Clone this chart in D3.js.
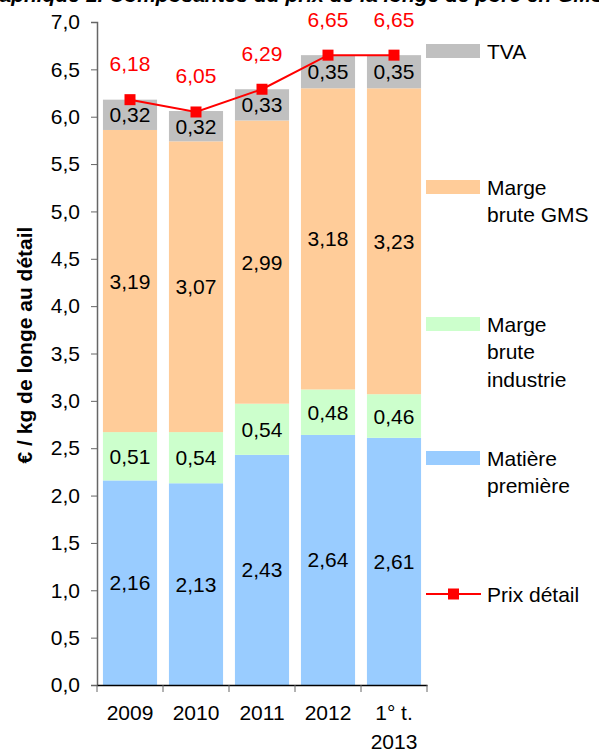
<!DOCTYPE html>
<html>
<head>
<meta charset="utf-8">
<script src="https://cdnjs.cloudflare.com/ajax/libs/d3/7.8.5/d3.min.js"></script>
<style>
  body { margin: 0; background: #fff; }
  svg { font-family: "Liberation Sans", Arial, sans-serif; }
</style>
</head>
<body>
<div id="chart"></div>
<script>
// data
var categories = ["2009", "2010", "2011", "2012", "1° t.\n2013"];
var matiere = [2.16, 2.13, 2.43, 2.64, 2.61];
var industrie = [0.51, 0.54, 0.54, 0.48, 0.46];
var gms = [3.19, 3.07, 2.99, 3.18, 3.23];
var tva = [0.32, 0.32, 0.33, 0.35, 0.35];
var prix = [6.18, 6.05, 6.29, 6.65, 6.65];
var yTicks = [0, 0.5, 1, 1.5, 2, 2.5, 3, 3.5, 4, 4.5, 5, 5.5, 6, 6.5, 7];

var seriesKeys = ["matiere", "industrie", "gms", "tva"];
var colors = {matiere: "#99CCFF", industrie: "#CCFFCC", gms: "#FFCC99", tva: "#C0C0C0"};

var rows = categories.map(function(c, i) {
  return {cat: c, matiere: matiere[i], industrie: industrie[i], gms: gms[i], tva: tva[i], prix: prix[i]};
});

var width = 599, height = 751;
var fs = "21px";
var svg = d3.select("#chart").append("svg")
  .attr("width", width)
  .attr("height", height);

// title, mostly cut off at the top
svg.append("text")
  .attr("x", -25)
  .attr("y", 2)
  .attr("font-size", fs)
  .attr("font-weight", "bold")
  .attr("font-style", "italic")
  .text("Graphique 1. Composantes du prix de la longe de porc en GMS");

var x = d3.scaleBand()
  .domain(categories)
  .range([97, 427])
  .paddingInner(0.18)
  .paddingOuter(0.09);

var y = d3.scaleLinear()
  .domain([0, 7])
  .range([685, 22]);

var stacked = d3.stack().keys(seriesKeys)(rows);

// bars
svg.append("g")
  .selectAll("g")
  .data(stacked)
  .enter()
  .append("g")
  .attr("fill", function(d) { return colors[d.key]; })
  .selectAll("rect")
  .data(function(d) { return d; })
  .enter()
  .append("rect")
  .attr("x", function(d) { return x(d.data.cat); })
  .attr("y", function(d) { return y(d[1]); })
  .attr("width", x.bandwidth())
  .attr("height", function(d) { return y(d[0]) - y(d[1]); });

// value labels inside segments
var fmt = function(v) { return d3.format(".2f")(v).replace(".", ","); };
stacked.forEach(function(s) {
  svg.append("g")
    .selectAll("text")
    .data(s)
    .enter()
    .append("text")
    .attr("x", function(d) { return x(d.data.cat) + x.bandwidth() / 2; })
    .attr("y", function(d) { return (y(d[0]) + y(d[1])) / 2 + 7.5; })
    .attr("text-anchor", "middle")
    .attr("font-size", fs)
    .attr("fill", "#000")
    .text(function(d) { return fmt(d[1] - d[0]); });
});

// y axis
var yAxis = svg.append("g")
  .attr("transform", "translate(97,0)")
  .call(d3.axisLeft(y).tickValues(yTicks).tickSize(6).tickPadding(11)
    .tickFormat(function(d) { return d3.format(".1f")(d).replace(".", ","); }));
yAxis.select(".domain").attr("stroke", "#666").attr("stroke-width", 1.5);
yAxis.selectAll(".tick line").attr("stroke", "#666");
yAxis.selectAll("text").attr("font-size", fs).attr("fill", "#000")
  .attr("font-family", "Liberation Sans, Arial, sans-serif");

// x axis
var xAxis = svg.append("g")
  .attr("transform", "translate(0,685)")
  .call(d3.axisBottom(x).tickSize(0).tickFormat(""));
xAxis.select(".domain").attr("stroke", "#000").attr("stroke-width", 1.5);
var edges = categories.map(function(c) { return x(c) - x.step() * x.paddingInner() / 2; });
edges.push(427);
svg.append("g")
  .selectAll("line")
  .data(edges)
  .enter()
  .append("line")
  .attr("x1", function(d) { return d; })
  .attr("x2", function(d) { return d; })
  .attr("y1", 685)
  .attr("y2", 692)
  .attr("stroke", "#666");

svg.append("g")
  .selectAll("text")
  .data(categories)
  .enter()
  .append("text")
  .attr("x", function(d) { return x(d) + x.bandwidth() / 2; })
  .attr("y", 720)
  .attr("text-anchor", "middle")
  .attr("font-size", fs)
  .each(function(d) {
    var t = d3.select(this);
    d.split("\n").forEach(function(l, i) {
      t.append("tspan")
        .attr("x", x(d) + x.bandwidth() / 2)
        .attr("dy", i === 0 ? 0 : 29)
        .text(l);
    });
  });

// y axis title
svg.append("text")
  .attr("transform", "translate(32,345) rotate(-90)")
  .attr("text-anchor", "middle")
  .attr("font-size", fs)
  .attr("font-weight", "bold")
  .text("€ / kg de longe au détail");

// price line
var line = d3.line()
  .x(function(d) { return x(d.cat) + x.bandwidth() / 2; })
  .y(function(d) { return y(d.prix); });

svg.append("path")
  .datum(rows)
  .attr("d", line)
  .attr("fill", "none")
  .attr("stroke", "#FF0000")
  .attr("stroke-width", 2);

svg.append("g")
  .selectAll("rect")
  .data(rows)
  .enter()
  .append("rect")
  .attr("x", function(d) { return x(d.cat) + x.bandwidth() / 2 - 5.5; })
  .attr("y", function(d) { return y(d.prix) - 5.5; })
  .attr("width", 11)
  .attr("height", 11)
  .attr("fill", "#FF0000");

svg.append("g")
  .selectAll("text")
  .data(rows)
  .enter()
  .append("text")
  .attr("x", function(d) { return x(d.cat) + x.bandwidth() / 2; })
  .attr("y", function(d) { return y(d.prix) - 28.5; })
  .attr("text-anchor", "middle")
  .attr("font-size", fs)
  .attr("fill", "#FF0000")
  .text(function(d) { return fmt(d.prix); });

// legend
var legendItems = [
  {key: "tva", lines: ["TVA"], y: 51},
  {key: "gms", lines: ["Marge", "brute GMS"], y: 187},
  {key: "industrie", lines: ["Marge", "brute", "industrie"], y: 324},
  {key: "matiere", lines: ["Matière", "première"], y: 458}
];

var leg = svg.append("g");
legendItems.forEach(function(it) {
  leg.append("rect")
    .attr("x", 426)
    .attr("y", it.y - 7)
    .attr("width", 54)
    .attr("height", 14)
    .attr("fill", colors[it.key]);
  var t = leg.append("text")
    .attr("x", 487)
    .attr("y", it.y + 7.5)
    .attr("font-size", fs);
  it.lines.forEach(function(l, i) {
    t.append("tspan").attr("x", 487).attr("dy", i === 0 ? 0 : 27.5).text(l);
  });
});

leg.append("line")
  .attr("x1", 426).attr("x2", 481)
  .attr("y1", 594).attr("y2", 594)
  .attr("stroke", "#FF0000")
  .attr("stroke-width", 2);
leg.append("rect")
  .attr("x", 448).attr("y", 588.5)
  .attr("width", 11).attr("height", 11)
  .attr("fill", "#FF0000");
leg.append("text")
  .attr("x", 487)
  .attr("y", 601.5)
  .attr("font-size", fs)
  .text("Prix détail");
</script>
</body>
</html>
